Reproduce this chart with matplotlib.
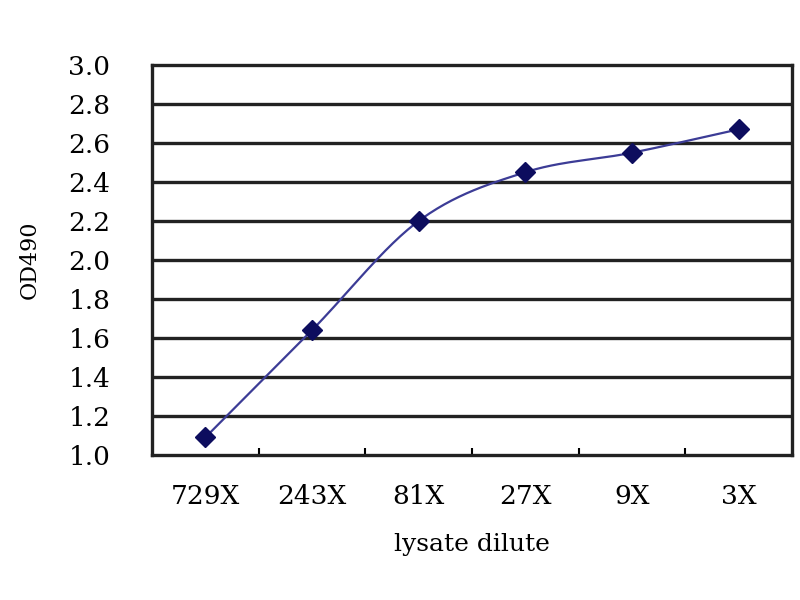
import numpy as np
import matplotlib
matplotlib.use("Agg")
import matplotlib.pyplot as plt

categories = ["729X", "243X", "81X", "27X", "9X", "3X"]
od490 = [1.09, 1.64, 2.20, 2.45, 2.55, 2.67]
yticks = [1.0, 1.2, 1.4, 1.6, 1.8, 2.0, 2.2, 2.4, 2.6, 2.8, 3.0]

plt.rcParams['font.family'] = ['DejaVu Serif', 'Liberation Serif']

fig = plt.figure(figsize=(8, 6), dpi=100)
ax = fig.add_axes([0.19, 0.2417, 0.80, 0.65])

x = np.arange(len(categories), dtype=float)
y = np.array(od490, dtype=float)

# Catmull-Rom smoothing (Excel-style smoothed line)
def catmull(xp, yp, n=30):
    P = np.column_stack([xp, yp])
    P = np.vstack([P[0] - (P[1] - P[0]), P, P[-1] + (P[-1] - P[-2])])
    out = []
    t = np.linspace(0, 1, n)
    for i in range(1, len(P) - 2):
        p0, p1, p2, p3 = P[i - 1], P[i], P[i + 1], P[i + 2]
        seg = 0.5 * ((2 * p1)[None, :] + np.outer(t, (-p0 + p2)) +
                     np.outer(t ** 2, (2 * p0 - 5 * p1 + 4 * p2 - p3)) +
                     np.outer(t ** 3, (-p0 + 3 * p1 - 3 * p2 + p3)))
        out.append(seg)
    return np.vstack(out)

curve = catmull(x, y)
ax.plot(curve[:, 0], curve[:, 1], color='#3c3c96', lw=1.6, zorder=3)
ax.plot(x, y, linestyle='none', marker='D', markersize=10, color='#0d0d5e', zorder=4)

ax.set_xlim(-0.5, len(categories) - 0.5)
ax.set_ylim(1.0, 3.0)
ax.set_yticks(yticks)
ax.set_yticklabels([f"{v:.1f}" for v in yticks], fontsize=19)
for v in yticks[1:-1]:
    ax.axhline(v, color='#222222', lw=2.4, zorder=1)

ax.set_xticks(x)
ax.set_xticklabels(categories, fontsize=19)
ax.set_xticks(np.arange(0.5, len(categories) - 1, 1.0), minor=True)
ax.tick_params(axis='x', which='major', length=0, pad=21)
ax.tick_params(axis='x', which='minor', direction='in', length=5, width=1.5)
ax.tick_params(axis='y', which='major', length=0, pad=30)

for s in ax.spines.values():
    s.set_linewidth(2.4)
    s.set_color('#222222')

ax.set_ylabel("OD490", fontsize=16, labelpad=20)
ax.set_xlabel("lysate dilute", fontsize=18, labelpad=17)

fig.savefig("out.png", dpi=100)
